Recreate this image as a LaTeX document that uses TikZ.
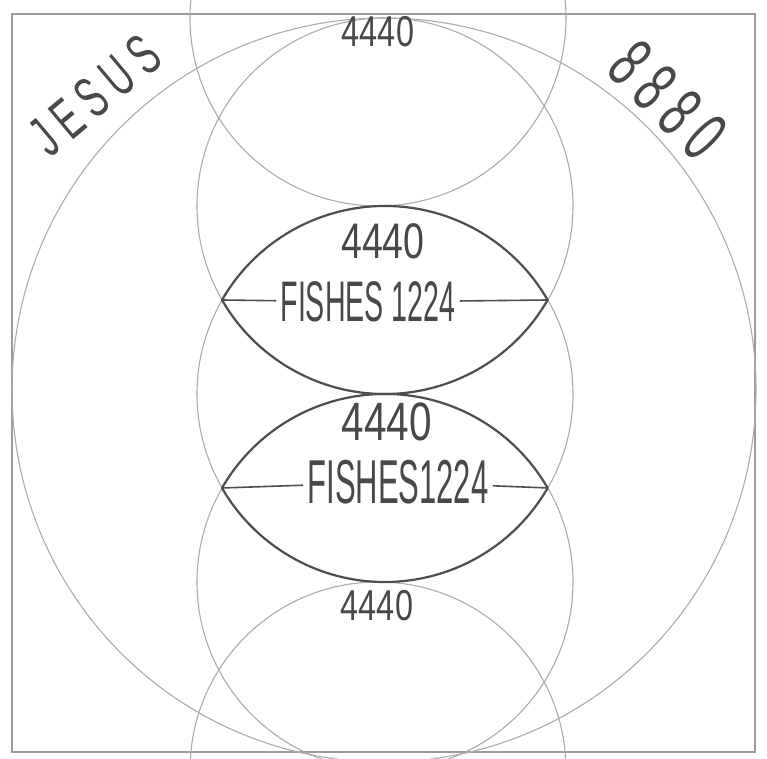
\documentclass[tikz,border=0pt]{standalone}
\usepackage{fontspec}
\setmainfont{Liberation Sans}
\newfontfamily\handnum[FakeStretch=0.75]{Liberation Sans}
\newfontfamily\handcap[FakeStretch=0.5]{Liberation Sans}
\newfontfamily\handword[FakeStretch=0.6, LetterSpace=16]{Liberation Sans}
\definecolor{pencil}{RGB}{172,172,172}
\definecolor{lead}{RGB}{78,78,78}
\definecolor{graphite}{RGB}{72,72,72}
\begin{document}
\begin{tikzpicture}[
  x=0.5pt, y=0.5pt,
  ring/.style={draw=pencil, line width=0.55pt},
  lens/.style={draw=lead, line width=1.1pt, line join=round},
  chord/.style={draw=lead, line width=0.8pt},
  smallnum/.style={text=graphite, inner sep=1pt, font={\handnum\fontsize{21.6}{24}\selectfont}},
  num/.style={text=graphite, inner sep=1pt, font={\handnum\fontsize{25}{28}\selectfont}},
  fish/.style={text=graphite, inner sep=2pt, font={\handcap\fontsize{28.6}{30}\selectfont}},
  word/.style={text=graphite, inner sep=1pt, font={\handword\fontsize{29}{32}\selectfont}}
]
\useasboundingbox (0,0) rectangle (767,759);
\fill[white] (0,0) rectangle (767,759);
\clip (0,0) rectangle (767,759);
% frame and outer circle
\draw[draw=pencil!90!black, line width=0.6pt] (12,7) rectangle (755,745);
\draw[ring] (384,369) circle[radius=372];
% column of circles
\draw[ring] (378,741) circle[radius=188];
\draw[ring] (385,553) circle[radius=188];
\draw[ring] (385,365) circle[radius=188];
\draw[ring] (385,177) circle[radius=188];
\draw[ring] (378,-11) circle[radius=188];
% lens tips
\coordinate (tipAL) at (222,459);
\coordinate (tipAR) at (548,459);
\coordinate (tipBL) at (222,271);
\coordinate (tipBR) at (548,271);
% the two lenses
\draw[lens] (tipAL) arc[start angle=150, end angle=30, radius=188]
  arc[start angle=-30, end angle=-150, radius=188] -- cycle;
\draw[lens] (tipBL) arc[start angle=150, end angle=30, radius=188]
  arc[start angle=-30, end angle=-150, radius=188] -- cycle;
% labels
\node[smallnum] (topnum) at (378,727) {4440};
\node[num] (lensAnum) at (383,518) {4440};
\node[fish] (fishA) at (368,457) {FISHES 1224};
\node[num, font={\handnum\fontsize{27}{30}\selectfont}] (lensBnum) at (387,337) {4440};
\node[fish, font={\handcap\fontsize{31}{33}\selectfont}] (fishB) at (398,277) {FISHES1224};
\node[smallnum] (botnum) at (377,153) {4440};
\node[word, rotate=40] (jesus) at (95,664) {JESUS};
\node[word, rotate=-45, font={\handword\fontsize{36}{40}\selectfont}] (eights) at (668,659) {8880};
% chords through the lenses
\draw[chord] (tipAL) -- (fishA);
\draw[chord] (fishA) -- (tipAR);
\draw[chord] (tipBL) -- (fishB);
\draw[chord] (fishB) -- (tipBR);
\end{tikzpicture}
\end{document}
